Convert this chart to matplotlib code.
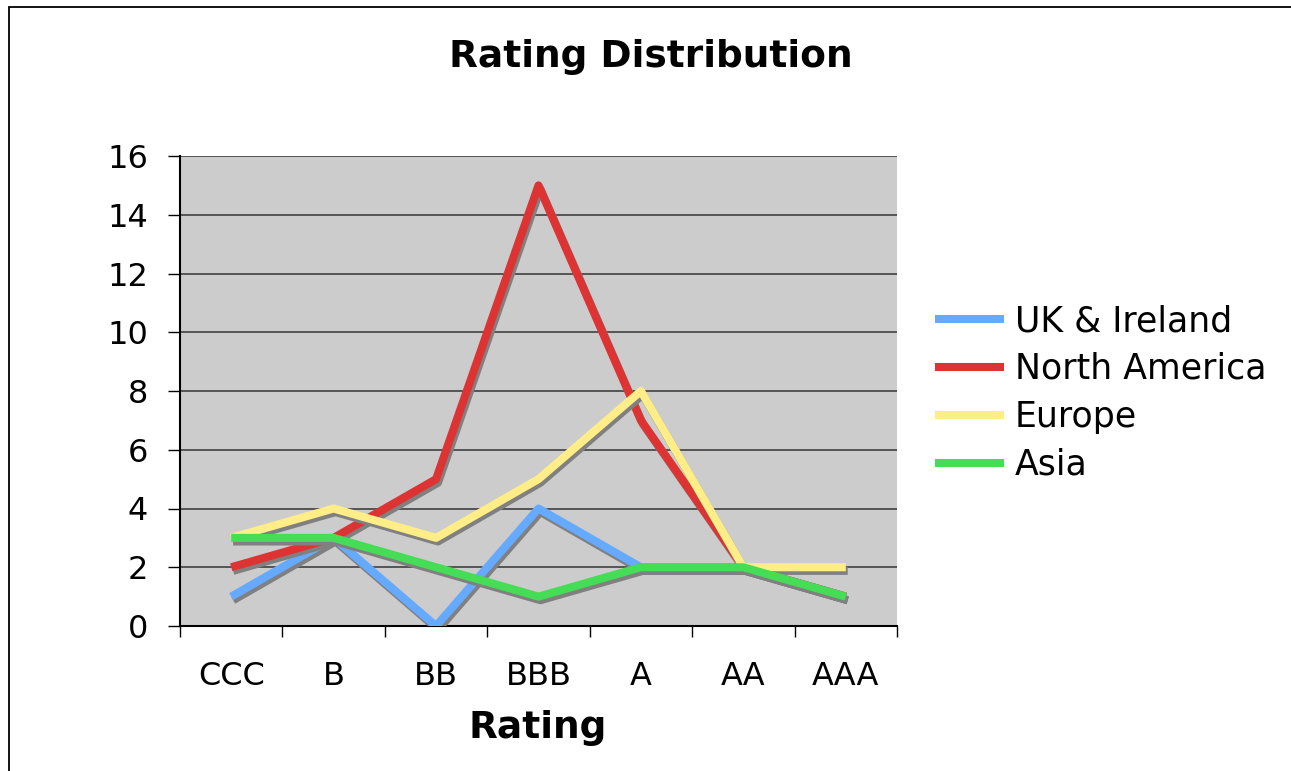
import matplotlib
matplotlib.use("Agg")
import matplotlib.pyplot as plt
import matplotlib.patheffects as pe
from matplotlib.lines import Line2D
from matplotlib.patches import Rectangle

# ratings and counts per region
ratings = ['CCC', 'B', 'BB', 'BBB', 'A', 'AA', 'AAA']
uk_ireland = [1, 3, 0, 4, 2, 2, 1]
north_america = [2, 3, 5, 15, 7, 2, 1]
europe = [3, 4, 3, 5, 8, 2, 2]
asia = [3, 3, 2, 1, 2, 2, 1]

names = ['UK & Ireland', 'North America', 'Europe', 'Asia']
series = [uk_ireland, north_america, europe, asia]
colors = ['#66AAFF', '#DD3333', '#FFEE88', '#44DD55']

plt.rcParams['font.family'] = 'DejaVu Sans'

fig = plt.figure(figsize=(12.91, 7.71), dpi=100)
ax = fig.add_axes([180/1291, 1-626/771, 717/1291, 470/771])
ax.set_facecolor('#CCCCCC')

x = list(range(len(ratings)))
shadow = [pe.SimpleLineShadow(offset=(1.4, -2.6), shadow_color='#808080', alpha=1.0), pe.Normal()]
for vals, c, n in zip(series, colors, names):
    ax.plot(x, vals, color=c, lw=5.8, solid_capstyle='butt', path_effects=shadow, zorder=3)

ax.set_xlim(-0.5, len(ratings) - 0.5)
ax.set_ylim(0, 16)
ax.set_yticks(range(0, 17, 2))
ax.set_xticks(x)
ax.set_xticklabels(ratings)
ax.set_xticks([i - 0.5 for i in range(len(ratings) + 1)], minor=True)
ax.tick_params(axis='x', which='major', length=0, pad=25, labelsize=23)
ax.tick_params(axis='x', which='minor', length=8, width=1, direction='out')
ax.tick_params(axis='y', length=9, width=1, direction='out', pad=14, labelsize=23)
ax.grid(axis='y', color='#404040', lw=1.2, zorder=1)
ax.set_axisbelow(True)
for s in ['top', 'right']:
    ax.spines[s].set_visible(False)
ax.spines['left'].set_linewidth(1.5)
ax.spines['bottom'].set_linewidth(1.5)

handles = [Line2D([], [], color=c, lw=5.8, solid_capstyle='butt') for c in colors]
fig.legend(handles, names, loc='upper left', bbox_to_anchor=(935/1291, 1-304/771),
           frameon=False, fontsize=25, handlelength=2.0, handletextpad=0.3,
           labelspacing=0.4, borderpad=0, borderaxespad=0)

fig.text(651/1291, 1-57/771, 'Rating Distribution', ha='center', va='center',
         fontsize=27, fontweight='bold')
fig.text(538/1291, 1-728/771, 'Rating', ha='center', va='center',
         fontsize=27, fontweight='bold')

fig.patches.append(Rectangle((9/1291, -0.1), 1.2, 1 - 7/771 + 0.1, transform=fig.transFigure,
                             fill=False, edgecolor='black', lw=1.3))

fig.savefig('out.png', dpi=100)
